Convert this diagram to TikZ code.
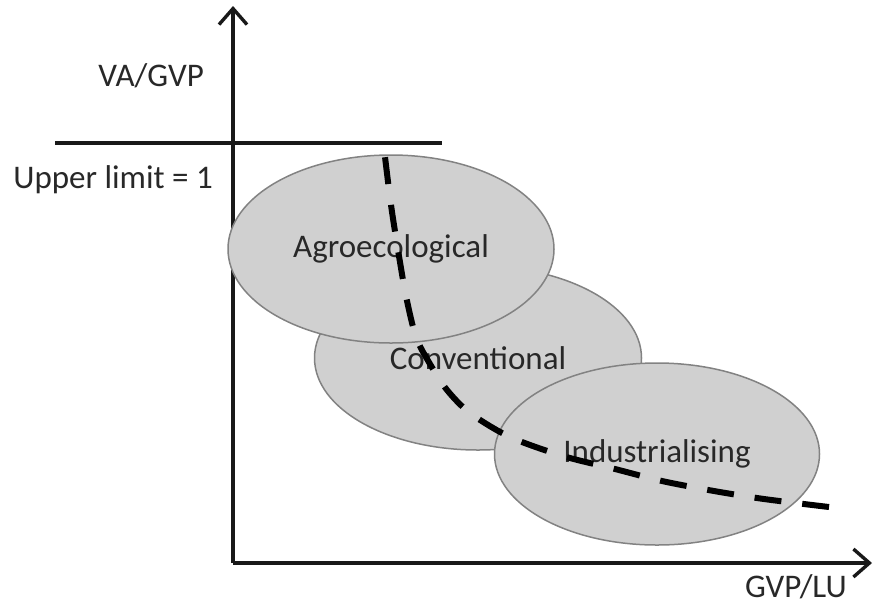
\documentclass[tikz,border=0pt]{standalone}
\usepackage{fontspec}
\setmainfont{Carlito}
\usetikzlibrary{arrows.meta,shapes.geometric}
\definecolor{ellfill}{RGB}{208,208,208}
\definecolor{ellline}{RGB}{130,130,130}
\definecolor{txt}{RGB}{40,40,40}
\tikzset{
  axis/.style={line width=3.4pt, black!90, -{Straight Barb[length=16pt,width=28pt,line width=3.4pt]}},
  limitline/.style={line width=3.4pt, black!90},
  group/.style={ellipse, draw=ellline, line width=1.5pt, fill=ellfill, text=txt,
    font=\fontsize{33}{38}\selectfont, inner sep=0pt},
  lbl/.style={text=txt, font=\fontsize{33}{38}\selectfont, inner sep=0pt},
  trend/.style={line width=6pt, black, dash pattern=on 27pt off 21pt}
}
\begin{document}
\begin{tikzpicture}[x=1pt,y=-1pt]
  \useasboundingbox (0,0) rectangle (874,606);
  % axes
  \coordinate (o) at (233,563);
  \coordinate (ytip) at (233,6);
  \coordinate (xtip) at (872,563);
  \draw[axis] (o) -- (ytip);
  \draw[axis] (o) -- (xtip);
  % upper limit line
  \coordinate (ul1) at (55,143);
  \coordinate (ul2) at (442,143);
  \draw[limitline] (ul1) -- (ul2);
  % axis labels
  \node[lbl, anchor=base east] (ylab) at (204,86) {VA/GVP};
  \node[lbl, anchor=base east] (ulab) at (213,188) {Upper limit = 1};
  \node[lbl, anchor=base east] (xlab) at (847,597) {GVP/LU};
  % farm groups
  \node[group, minimum width=327pt, minimum height=184pt] (conv) at (478,358) {Conventional};
  \node[group, minimum width=326pt, minimum height=188pt] (agro) at (391,249) {Agroecological};
  \node[group, minimum width=325pt, minimum height=182pt] (ind) at (657,454) {Industrialising};
  % trend curve, drawn from its low end upwards
  \coordinate (c0) at (385,157);
  \coordinate (c1) at (391,205);
  \coordinate (c2) at (398,250);
  \coordinate (c3) at (406,296);
  \coordinate (c4) at (416,337);
  \coordinate (c5) at (430,364);
  \coordinate (c6) at (447,390);
  \coordinate (c7) at (470,413);
  \coordinate (c8) at (510,437);
  \coordinate (c9) at (563,456);
  \coordinate (c10) at (615,469);
  \coordinate (c11) at (662,481);
  \coordinate (c12) at (714,491);
  \coordinate (c13) at (764,499);
  \coordinate (c14) at (829,507);
  \draw[trend] plot[smooth, tension=0.5] coordinates {(c14) (c13) (c12) (c11) (c10) (c9) (c8) (c7) (c6) (c5) (c4) (c3) (c2) (c1) (c0)};
\end{tikzpicture}
\end{document}
